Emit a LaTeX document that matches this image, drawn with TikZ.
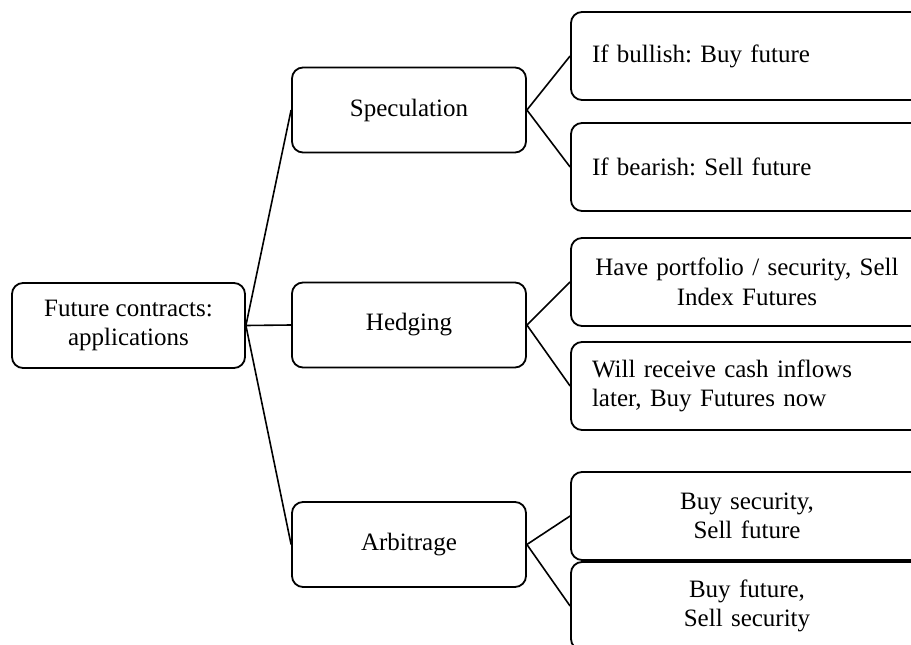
\documentclass[tikz,border=0pt]{standalone}
\usepackage{fontspec}
\setmainfont{Liberation Serif}
\usetikzlibrary{positioning}
\frenchspacing
\newcommand{\boxfont}{\fontsize{25}{29.5}\selectfont}

\tikzset{
	box/.style={draw, line width=1.8pt, rounded corners=11pt, inner sep=0pt, align=center, font=\boxfont},
	midbox/.style={box, minimum width=234pt, minimum height=85pt},
	leafbox/.style={box, minimum width=352pt, minimum height=88pt, text width=310pt},
	link/.style={line width=1.6pt}
}

\begin{document}
\begin{tikzpicture}[x=1pt, y=-1pt]

	\useasboundingbox (0,0) rectangle (911,645);

	\node[box, minimum width=233pt, minimum height=85pt] (root) at (128.5,325.5) {Future contracts:\\applications};

	\node[midbox] (spec) at (409,110) {Speculation};
	\node[midbox] (hedge) at (409,325) {Hedging};
	\node[midbox] (arb) at (409,544.5) {Arbitrage};

	\node[leafbox, align=left] (bull) at (747,56) {If bullish: Buy future};
	\node[leafbox, align=left] (bear) at (747,167) {If bearish: Sell future};
	\node[leafbox] (port) at (747,282) {Have portfolio / security, Sell\\Index Futures};
	\node[leafbox, align=left] (cash) at (747,386) {Will receive cash inflows\\later, Buy Futures now};
	\node[leafbox] (buysec) at (747,516) {Buy security,\\Sell future};
	\node[leafbox] (buyfut) at (747,606) {Buy future,\\Sell security};

	\foreach \a/\b in {root/spec, root/hedge, root/arb, spec/bull, spec/bear, hedge/port, hedge/cash, arb/buysec, arb/buyfut}
		\draw[link] (\a.east) -- (\b.west);

\end{tikzpicture}
\end{document}
